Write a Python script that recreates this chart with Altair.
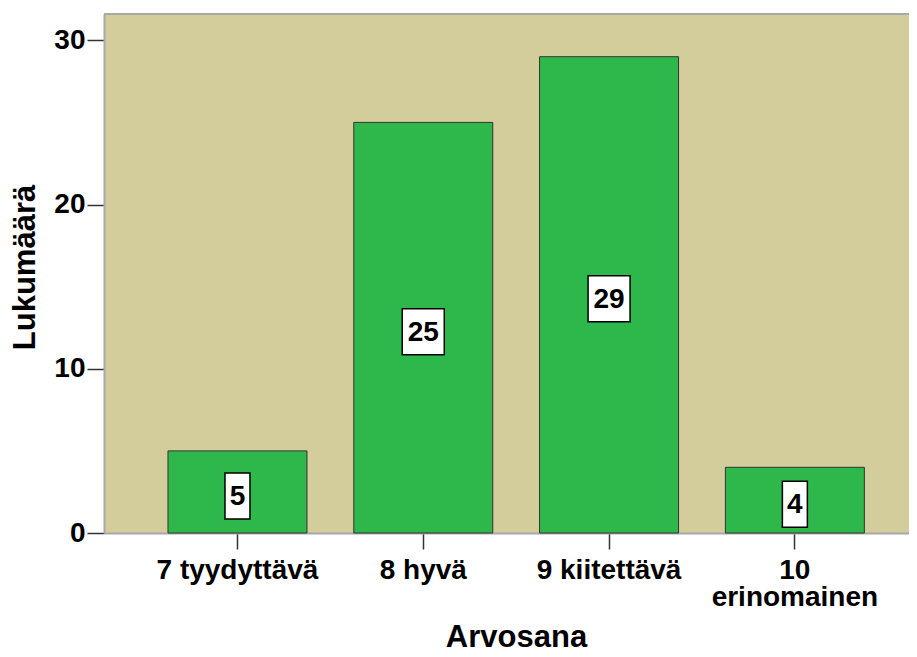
import altair as alt
import pandas as pd

categories = ["7 tyydyttävä", "8 hyvä", "9 kiitettävä", "10 erinomainen"]
counts = [5, 25, 29, 4]
y_ticks = [0, 10, 20, 30]

df = pd.DataFrame({"Arvosana": categories, "Lukumäärä": counts})
df["digits"] = df["Lukumäärä"].astype(str).str.len().astype(str)

W, H = 805, 519
FONT = "Liberation Sans"
BAR_FILL = "#2EB84B"
BG = "#D2CD9A"
BORDER = "#A8A8A8"

x = alt.X(
    "Arvosana:N",
    sort=categories,
    scale=alt.Scale(paddingInner=0.252, paddingOuter=0.2923, align=0.589),
    axis=alt.Axis(
        title="Arvosana",
        labelAngle=0,
        labelFont=FONT, labelFontSize=28, labelFontWeight="bold", labelColor="black",
        labelPadding=7, labelLineHeight=27, labelLimit=400, labelOverlap=False,
        labelExpr="datum.value == '10 erinomainen' ? ['10', 'erinomainen'] : datum.value",
        tickSize=16, tickColor="#333333", tickWidth=1.5,
        domainColor=BORDER, domainWidth=2,
        titleFont=FONT, titleFontSize=31, titleFontWeight="bold", titleColor="black",
        titleBaseline="alphabetic", titleAlign="center", titleX=412, titleY=113,
    ),
)

y_axis = alt.Axis(
    values=y_ticks, grid=False, title="Lukumäärä",
    labelFont=FONT, labelFontSize=28, labelFontWeight="bold", labelColor="black",
    labelPadding=2,
    tickSize=17, tickColor="#333333", tickWidth=1.5,
    domainColor=BORDER, domainWidth=2,
    titleFont=FONT, titleFontSize=31, titleFontWeight="bold", titleColor="black",
    titleBaseline="alphabetic", titleAlign="center", titleAngle=-90, titleX=-70, titleY=253,
)

base = alt.Chart(df)

bars = base.mark_bar(fill=BAR_FILL, stroke="#333333", strokeWidth=1).encode(
    x=x,
    y=alt.Y("Lukumäärä:Q", scale=alt.Scale(domain=[0, 31.6], nice=False), axis=y_axis),
)

p1 = "M-0.543,-1H0.543V1H-0.543Z"
p2 = "M-0.913,-1H0.913V1H-0.913Z"

labels_base = base.transform_calculate(half="datum['Lukumäärä'] / 2")

boxes = labels_base.mark_point(
    filled=True, fill="white", stroke="black", strokeWidth=1.5, opacity=1, yOffset=4
).encode(
    x=alt.X("Arvosana:N", sort=categories),
    y=alt.Y("half:Q"),
    shape=alt.Shape("digits:N", scale=alt.Scale(domain=["1", "2"], range=[p1, p2]), legend=None),
    size=alt.value(2116),
)

texts = labels_base.mark_text(
    font=FONT, fontSize=28, fontWeight="bold", color="black", baseline="middle", yOffset=4, dy=1
).encode(
    x=alt.X("Arvosana:N", sort=categories),
    y=alt.Y("half:Q"),
    text=alt.Text("Lukumäärä:Q"),
)

top_rule = alt.Chart(df).mark_rule(color=BORDER, strokeWidth=2).encode(y=alt.value(0))

chart = alt.layer(bars, boxes, texts, top_rule).properties(
    width=W, height=H,
    autosize=alt.AutoSizeParams(type="none"),
    padding={"left": 96, "top": 6, "right": 0, "bottom": 115},
    background="white",
).configure_view(stroke=None, fill=BG)

chart.save("out.html", embed_options={"renderer": "svg", "actions": False})
